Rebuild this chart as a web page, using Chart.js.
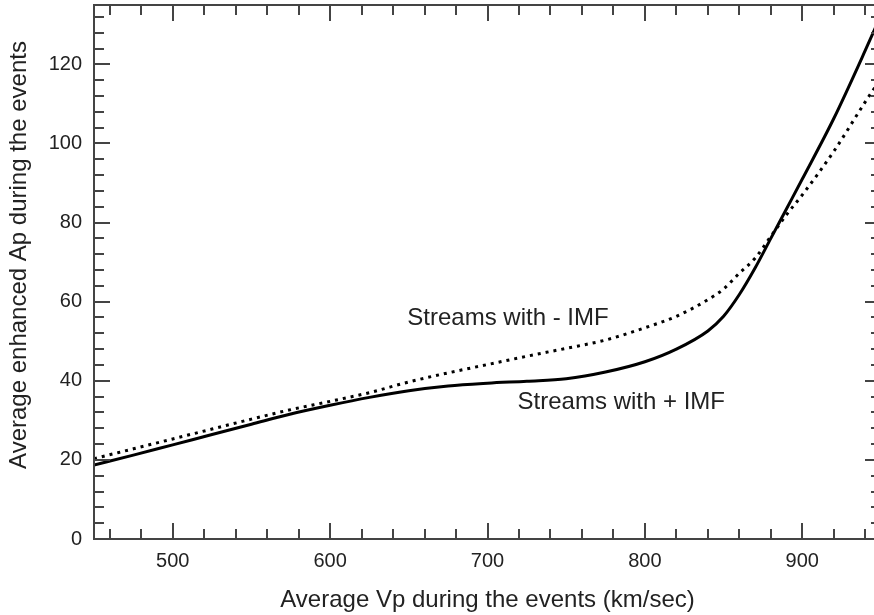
<!DOCTYPE html>
<html>
<head>
<meta charset="utf-8">
<script src="https://cdn.jsdelivr.net/npm/chart.js@4.4.0/dist/chart.umd.min.js"></script>
<style>
  html, body { margin: 0; padding: 0; background: #fff; overflow: hidden; }
  #wrap { width: 874px; height: 615px; overflow: hidden; }
</style>
</head>
<body>
<div id="wrap"><canvas id="chart" width="882" height="615"></canvas></div>
<script>
// ===== Data =====
const vp = [450, 475, 500, 525, 550, 575, 600, 625, 650, 675, 700, 725, 750, 775,
            800, 820, 840, 850, 860, 870, 880, 890, 900, 920, 940, 950];
const apPlusImf = [18.7, 21.2, 23.8, 26.4, 29.0, 31.6, 33.8, 35.8, 37.5, 38.7, 39.4, 39.9, 40.5, 42.2,
                   44.8, 48.0, 52.6, 56.3, 61.8, 68.5, 76.0, 83.5, 91.0, 106.3, 123.5, 132.5];
const apMinusImf = [20.3, 22.8, 25.3, 27.8, 30.3, 32.7, 34.8, 37.0, 39.7, 42.0, 44.1, 46.2, 48.2, 50.3,
                    53.4, 56.3, 60.5, 63.2, 67.2, 71.0, 76.5, 82.0, 87.0, 98.0, 110.5, 116.5];
const xTicks = [500, 600, 700, 800, 900];
const yTicks = [0, 20, 40, 60, 80, 100, 120];
const notes = [
  { text: "Streams with - IMF", x: 713, y: 55.8 },
  { text: "Streams with + IMF", x: 785, y: 34.6 }
];
const yTitle = "Average enhanced Ap during the events";

const FONT = "'Liberation Sans', Arial, sans-serif";
const INK = "#222";

// ===== Frame, inward ticks, notes =====
const frame = {
  id: "frame",
  afterDatasetsDraw(chart) {
    const { ctx, chartArea: a, scales: { x, y } } = chart;
    ctx.save();
    ctx.strokeStyle = "#444";
    ctx.lineWidth = 2;
    ctx.strokeRect(a.left, a.top, a.right - a.left, a.bottom - a.top);

    ctx.beginPath();
    for (let v = 460; v <= 940; v += 20) {
      const px = Math.round(x.getPixelForValue(v));
      const len = v % 100 === 0 ? 16 : 10;
      ctx.moveTo(px, a.bottom); ctx.lineTo(px, a.bottom - len);
      ctx.moveTo(px, a.top); ctx.lineTo(px, a.top + len);
    }
    for (let v = 4; v <= 132; v += 4) {
      const py = Math.round(y.getPixelForValue(v));
      const len = v % 20 === 0 ? 16 : 10;
      ctx.moveTo(a.left, py); ctx.lineTo(a.left + len, py);
      ctx.moveTo(a.right, py); ctx.lineTo(a.right - len, py);
    }
    ctx.stroke();

    ctx.fillStyle = INK;
    ctx.font = "24px " + FONT;
    ctx.textAlign = "center";
    ctx.textBaseline = "middle";
    notes.forEach(n => ctx.fillText(n.text, x.getPixelForValue(n.x), y.getPixelForValue(n.y)));

    // y axis title, a bit above the middle of the plot like the original
    ctx.translate(19, 255);
    ctx.rotate(-Math.PI / 2);
    ctx.fillText(yTitle, 0, 0);
    ctx.restore();
  }
};

// ===== Chart =====
new Chart(document.getElementById("chart"), {
  type: "line",
  data: {
    datasets: [
      {
        label: "Streams with + IMF",
        data: vp.map((v, i) => ({ x: v, y: apPlusImf[i] })),
        borderColor: "#000",
        borderWidth: 3,
        pointRadius: 0,
        cubicInterpolationMode: "monotone"
      },
      {
        label: "Streams with - IMF",
        data: vp.map((v, i) => ({ x: v, y: apMinusImf[i] })),
        borderColor: "#000",
        borderWidth: 3,
        borderDash: [3, 5],
        borderCapStyle: "butt",
        pointRadius: 0,
        cubicInterpolationMode: "monotone"
      }
    ]
  },
  options: {
    responsive: false,
    devicePixelRatio: 1,
    animation: false,
    layout: { padding: { top: 5, right: 1, left: 0, bottom: 0 } },
    plugins: { legend: { display: false }, tooltip: { enabled: false } },
    scales: {
      x: {
        type: "linear",
        min: 450,
        max: 950,
        afterBuildTicks: s => { s.ticks = xTicks.map(v => ({ value: v })); },
        afterFit: s => { s.height = 76; s.paddingLeft = 0; s.paddingRight = 0; },
        grid: { display: false, drawTicks: false },
        border: { display: false },
        ticks: { padding: 10, color: INK, font: { family: FONT, size: 20 } },
        title: {
          display: true,
          text: "Average Vp during the events (km/sec)",
          color: INK,
          padding: { top: 0, bottom: 0 },
          font: { family: FONT, size: 24 }
        }
      },
      y: {
        type: "linear",
        min: 0,
        max: 135,
        afterBuildTicks: s => { s.ticks = yTicks.map(v => ({ value: v })); },
        afterFit: s => { s.width = 94; s.paddingTop = 0; s.paddingBottom = 0; },
        grid: { display: false, drawTicks: false },
        border: { display: false },
        ticks: { padding: 12, color: INK, font: { family: FONT, size: 20 } },
        title: { display: false }
      }
    }
  },
  plugins: [frame]
});
</script>
</body>
</html>
